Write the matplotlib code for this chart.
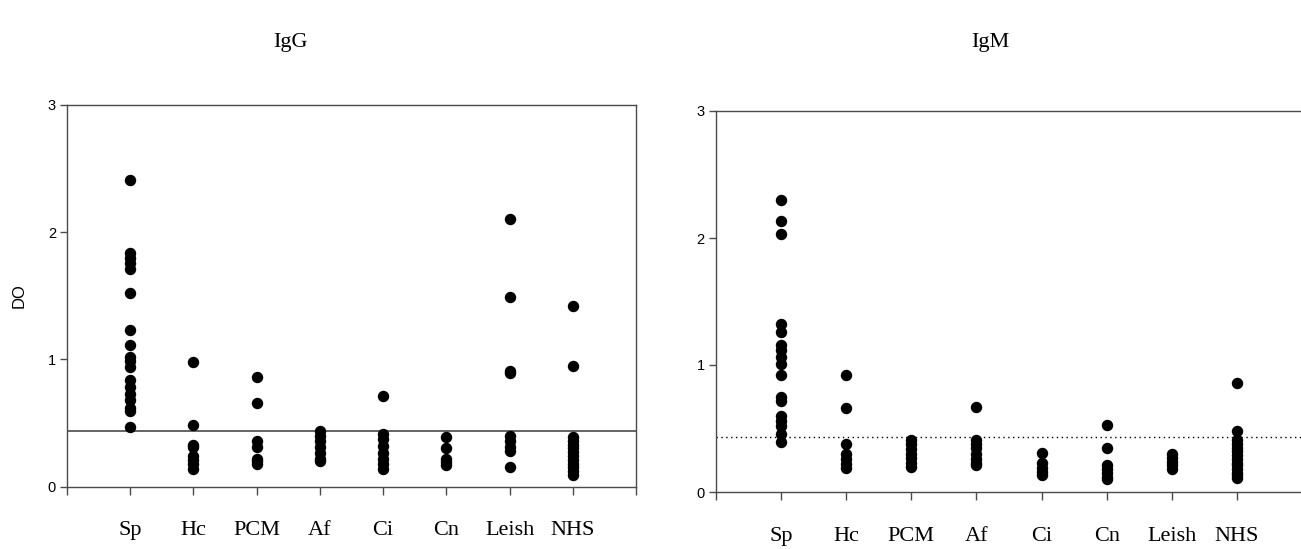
import numpy as np
import matplotlib
matplotlib.use("Agg")
import matplotlib.pyplot as plt

categories = ["Sp", "Hc", "PCM", "Af", "Ci", "Cn", "Leish", "NHS"]

igg_sp = [2.41, 1.84, 1.80, 1.76, 1.71, 1.52, 1.23, 1.11, 1.02, 0.99, 0.94, 0.84, 0.78, 0.73, 0.68, 0.62, 0.59, 0.47]
igg_hc = [0.98, 0.48, 0.33, 0.31, 0.24, 0.21, 0.18, 0.14]
igg_pcm = [0.86, 0.66, 0.36, 0.31, 0.22, 0.20, 0.18]
igg_af = [0.44, 0.40, 0.36, 0.31, 0.26, 0.22, 0.20]
igg_ci = [0.71, 0.41, 0.37, 0.32, 0.26, 0.22, 0.18, 0.14]
igg_cn = [0.39, 0.30, 0.22, 0.19, 0.17]
igg_leish = [2.10, 1.49, 0.91, 0.89, 0.40, 0.36, 0.31, 0.28, 0.15]
igg_nhs = [1.42, 0.95, 0.39, 0.36, 0.33, 0.30, 0.27, 0.24, 0.21, 0.18, 0.15, 0.12, 0.09]

igm_sp = [2.30, 2.13, 2.03, 1.32, 1.26, 1.16, 1.12, 1.06, 1.01, 0.92, 0.75, 0.72, 0.60, 0.56, 0.52, 0.46, 0.39]
igm_hc = [0.92, 0.66, 0.38, 0.30, 0.26, 0.22, 0.19]
igm_pcm = [0.41, 0.38, 0.34, 0.30, 0.27, 0.23, 0.20]
igm_af = [0.67, 0.41, 0.38, 0.35, 0.30, 0.26, 0.23, 0.21]
igm_ci = [0.31, 0.23, 0.19, 0.16, 0.13]
igm_cn = [0.53, 0.35, 0.21, 0.18, 0.15, 0.12, 0.10]
igm_leish = [0.30, 0.27, 0.24, 0.21, 0.18]
igm_nhs = [0.86, 0.48, 0.41, 0.38, 0.35, 0.32, 0.29, 0.26, 0.23, 0.21, 0.18, 0.15, 0.13, 0.11]

igg_cutoff = 0.435
igm_cutoff = 0.435

igg = [igg_sp, igg_hc, igg_pcm, igg_af, igg_ci, igg_cn, igg_leish, igg_nhs]
igm = [igm_sp, igm_hc, igm_pcm, igm_af, igm_ci, igm_cn, igm_leish, igm_nhs]

serif = "Liberation Serif"
sans = "Liberation Sans"
spine_col = "#4a4a4a"

fig = plt.figure(figsize=(13.01, 5.49), dpi=100)
ax1 = fig.add_axes([67 / 1301, 1 - 486.5 / 549, 569 / 1301, 381.5 / 549])
ax2 = fig.add_axes([715.7 / 1301, 1 - 492 / 549, 586.5 / 1301, 381 / 549])


def style(ax, title, tx):
    ax.set_xlim(0, 9)
    ax.set_ylim(0, 3)
    ax.set_xticks(range(10))
    ax.set_xticklabels([""] + categories + [""], fontfamily=serif, fontsize=16)
    ax.set_yticks([0, 1, 2, 3])
    ax.set_yticklabels(["0", "1", "2", "3"], fontfamily=sans, fontsize=10.5)
    ax.tick_params(axis="x", direction="out", length=6, width=1, color=spine_col, pad=19)
    ax.tick_params(axis="y", direction="out", length=5, width=1, color=spine_col, pad=3)
    for s in ax.spines.values():
        s.set_color(spine_col)
        s.set_linewidth(1.0)
    fig.text(tx, 1 - 42 / 549, title, ha="center", va="center", fontfamily=serif, fontsize=16)


for i, vals in enumerate(igg):
    ax1.scatter(np.full(len(vals), i + 1), vals, s=52, color="black", zorder=3, clip_on=False)
for i, vals in enumerate(igm):
    ax2.scatter(np.full(len(vals), i + 1), vals, s=52, color="black", zorder=3, clip_on=False)

ax1.axhline(igg_cutoff, color=spine_col, lw=1.2, zorder=2)
ax2.axhline(igm_cutoff, color="black", lw=1.0, ls=(0, (1, 2.5)), zorder=2)

style(ax1, "IgG", 290 / 1301)
style(ax2, "IgM", 990 / 1301)
ax1.set_ylabel("DO", fontfamily=sans, fontsize=12, labelpad=15)

fig.savefig("out.png", dpi=100)
